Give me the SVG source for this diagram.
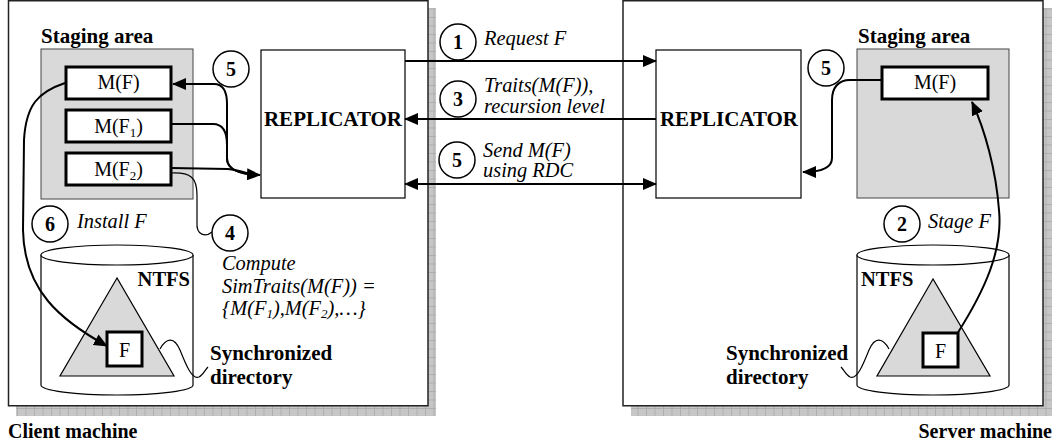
<svg xmlns="http://www.w3.org/2000/svg" width="1057" height="446" viewBox="0 0 1057 446">
  <style>
    .serif { font-family: "Liberation Serif", "Times New Roman", serif; fill: #000; }
    .bold { font-weight: bold; }
    .ital { font-style: italic; }
    .label { font-size: 20px; }
    .it { font-size: 20.4px; }
    .machine { fill: #fff; stroke: #222; stroke-width: 1.5; }
    .shadow { fill: url(#grid); }
    .stage { fill: #d9d9d9; stroke: #444; stroke-width: 1; }
    .item { fill: #fff; stroke: #000; stroke-width: 3; }
    .repl { fill: #fff; stroke: #000; stroke-width: 1.2; }
    .step { fill: #fff; stroke: #000; stroke-width: 1.5; }
    .disk { fill: #fff; stroke: #000; stroke-width: 1.2; }
    .tree { fill: #d9d9d9; stroke: #000; stroke-width: 1.2; }
    .flow { fill: none; stroke: #000; stroke-width: 2; }
    .thin { fill: none; stroke: #000; stroke-width: 1.2; }
  </style>
  <defs>
    <pattern id="grid" width="8.5" height="8.5" patternUnits="userSpaceOnUse">
      <rect width="8.5" height="8.5" fill="#c6c6c6"/>
      <path d="M0,0.4 H8.5 M0.4,0 V8.5" stroke="#a9a9a9" stroke-width="0.8"/>
    </pattern>
    <marker id="head" markerUnits="userSpaceOnUse" markerWidth="14" markerHeight="12" refX="13" refY="6" orient="auto-start-reverse">
      <path d="M0,0 L14,6 L0,12 z" fill="#000"/>
    </marker>
  </defs>

  <!-- client machine -->
  <g id="client-machine">
    <rect class="shadow" x="16" y="8" width="420" height="408"/>
    <rect class="machine" x="8.5" y="0.75" width="419.5" height="405"/>
    <text class="serif bold" x="8" y="438" font-size="20">Client machine</text>
  </g>

  <!-- server machine -->
  <g id="server-machine">
    <rect class="shadow" x="631" y="8" width="421" height="408"/>
    <rect class="machine" x="623" y="0.75" width="420" height="405"/>
    <text class="serif bold" x="1052" y="438" font-size="20" text-anchor="end">Server machine</text>
  </g>

  <!-- client staging area -->
  <g id="client-staging">
    <text class="serif bold" x="41" y="43" font-size="21">Staging area</text>
    <rect class="stage" x="41" y="49" width="152" height="150"/>
  </g>
  <g id="client-mf">
    <rect class="item" x="66" y="67" width="105" height="32"/>
    <text class="serif label" x="118.5" y="89" text-anchor="middle">M(F)</text>
  </g>
  <g id="client-mf1">
    <rect class="item" x="66" y="110" width="105" height="32"/>
    <text class="serif label" x="118.5" y="133" text-anchor="middle">M(F<tspan font-size="13" dy="4">1</tspan><tspan dy="-4">)</tspan></text>
  </g>
  <g id="client-mf2">
    <rect class="item" x="66" y="153" width="105" height="32"/>
    <text class="serif label" x="118.5" y="176" text-anchor="middle">M(F<tspan font-size="13" dy="4">2</tspan><tspan dy="-4">)</tspan></text>
  </g>

  <!-- replicators -->
  <g id="client-replicator">
    <rect class="repl" x="261" y="50" width="144" height="148"/>
    <text class="serif bold" x="333" y="126" font-size="21" text-anchor="middle">REPLICATOR</text>
  </g>
  <g id="server-replicator">
    <rect class="repl" x="656" y="50" width="145" height="148"/>
    <text class="serif bold" x="729" y="126" font-size="21" text-anchor="middle">REPLICATOR</text>
  </g>

  <!-- server staging area -->
  <g id="server-staging">
    <text class="serif bold" x="858" y="43" font-size="21">Staging area</text>
    <rect class="stage" x="857" y="49" width="152" height="149"/>
  </g>
  <g id="server-mf">
    <rect class="item" x="882" y="67" width="106" height="32"/>
    <text class="serif label" x="935" y="89" text-anchor="middle">M(F)</text>
  </g>

  <!-- client NTFS volume -->
  <g id="client-ntfs">
    <path class="disk" d="M41,255 L41,385 A76,10 0 0 0 193,385 L193,255"/>
    <ellipse class="disk" cx="117" cy="255" rx="76" ry="10"/>
    <text class="serif bold" x="190" y="286" font-size="20.5" text-anchor="end">NTFS</text>
    <polygon class="tree" points="117,278 60,376 174,376"/>
  </g>
  <g id="client-file">
    <rect class="item" x="107" y="332" width="35" height="34"/>
    <text class="serif label" x="124.5" y="357" text-anchor="middle">F</text>
  </g>
  <g id="client-sync-label">
    <text class="serif bold" x="210" y="360" font-size="21">Synchronized</text>
    <text class="serif bold" x="210" y="384" font-size="21">directory</text>
  </g>

  <!-- server NTFS volume -->
  <g id="server-ntfs">
    <path class="disk" d="M857,255 L857,385 A76,10 0 0 0 1009,385 L1009,255"/>
    <ellipse class="disk" cx="933" cy="255" rx="76" ry="10"/>
    <text class="serif bold" x="861" y="286" font-size="20.5">NTFS</text>
    <polygon class="tree" points="933,279 877,376 990,376"/>
  </g>
  <g id="server-file">
    <rect class="item" x="923" y="333" width="35" height="34"/>
    <text class="serif label" x="940.5" y="358" text-anchor="middle">F</text>
  </g>
  <g id="server-sync-label">
    <text class="serif bold" x="726" y="360" font-size="21">Synchronized</text>
    <text class="serif bold" x="726" y="384" font-size="21">directory</text>
  </g>

  <!-- connectors -->
  <g id="connectors">
    <line class="flow" x1="405" y1="61" x2="656" y2="61" marker-end="url(#head)"/>
    <line class="flow" x1="656" y1="119" x2="405" y2="119" marker-end="url(#head)"/>
    <line class="flow" x1="405" y1="184" x2="656" y2="184" marker-start="url(#head)" marker-end="url(#head)"/>

    <path class="flow" d="M173,84 L214,84 C224,84 227,92 227,104 L227,158 C227,170 240,174 260,175" marker-start="url(#head)" marker-end="url(#head)"/>
    <path class="flow" d="M171,124 L213,124 C223,124 227,132 227,145 L227,160 C228,170 240,174 256,175"/>
    <path class="flow" d="M171,168 L228,169 C240,170 248,174 256,175"/>
    <path class="thin" d="M171,173 C191,172 197,178 197,195 L197,222 C196,236 206,237 212,232"/>
    <path class="flow" d="M65,83 C38,92 26,105 24,140 L23,230 C24,290 60,320 107,346" marker-end="url(#head)"/>
    <path class="thin" d="M160,349 C166,338 174,336 180,350 C186,365 192,380 199,377 C203,375 205,370 208,367"/>

    <path class="flow" d="M882,80 L850,80 C838,80 832,88 832,100 L832,158 C832,168 822,172 803,172" marker-end="url(#head)"/>
    <path class="flow" d="M957,334 C985,290 1003,250 999,210 C996,170 985,130 972,102" marker-end="url(#head)"/>
    <path class="thin" d="M889,349 C883,338 875,336 869,350 C863,365 857,380 850,377 C846,375 844,370 841,367"/>
  </g>

  <!-- numbered steps -->
  <g id="step-1">
    <circle class="step" cx="458" cy="42" r="18"/>
    <text class="serif bold" x="458" y="49" font-size="20" text-anchor="middle">1</text>
    <text class="serif ital it" x="484" y="45">Request F</text>
  </g>
  <g id="step-3">
    <circle class="step" cx="458" cy="99" r="18"/>
    <text class="serif bold" x="458" y="106" font-size="20" text-anchor="middle">3</text>
    <text class="serif ital it" x="484" y="92">Traits(M(F)),</text>
    <text class="serif ital it" x="484" y="113">recursion level</text>
  </g>
  <g id="step-5-transfer">
    <circle class="step" cx="457" cy="160" r="18"/>
    <text class="serif bold" x="457" y="167" font-size="20" text-anchor="middle">5</text>
    <text class="serif ital it" x="483" y="157">Send M(F)</text>
    <text class="serif ital it" x="483" y="177">using RDC</text>
  </g>
  <g id="step-5-client">
    <circle class="step" cx="231" cy="69" r="18"/>
    <text class="serif bold" x="231" y="76" font-size="20" text-anchor="middle">5</text>
  </g>
  <g id="step-5-server">
    <circle class="step" cx="826" cy="68" r="18"/>
    <text class="serif bold" x="826" y="75" font-size="20" text-anchor="middle">5</text>
  </g>
  <g id="step-6">
    <circle class="step" cx="50" cy="224" r="18"/>
    <text class="serif bold" x="50" y="231" font-size="20" text-anchor="middle">6</text>
    <text class="serif ital it" x="77" y="228">Install F</text>
  </g>
  <g id="step-4">
    <circle class="step" cx="230" cy="233" r="18"/>
    <text class="serif bold" x="230" y="240" font-size="20" text-anchor="middle">4</text>
    <text class="serif ital it" x="222" y="270">Compute</text>
    <text class="serif ital it" x="222" y="293">SimTraits(M(F)) =</text>
    <text class="serif ital it" x="222" y="315">{M(F<tspan font-size="13" dy="3">1</tspan><tspan dy="-3">),M(F</tspan><tspan font-size="13" dy="3">2</tspan><tspan dy="-3">),…}</tspan></text>
  </g>
  <g id="step-2">
    <circle class="step" cx="902" cy="224" r="18"/>
    <text class="serif bold" x="902" y="231" font-size="20" text-anchor="middle">2</text>
    <text class="serif ital it" x="928" y="228">Stage F</text>
  </g>
</svg>
